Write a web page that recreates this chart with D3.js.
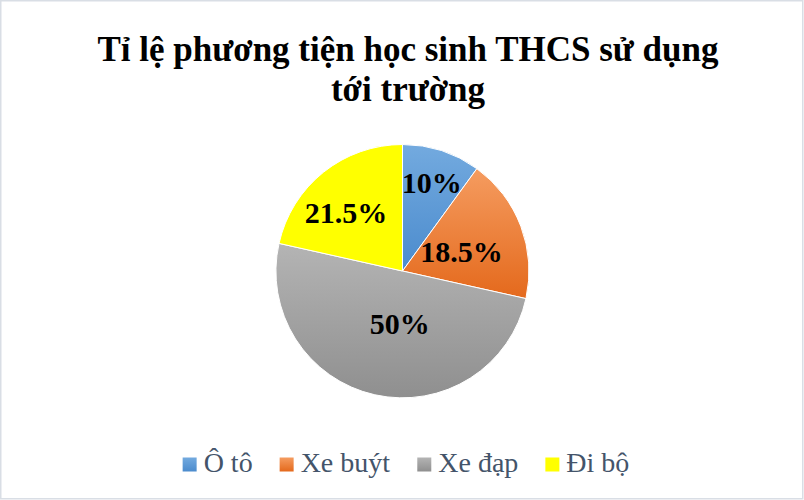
<!DOCTYPE html>
<html>
<head>
<meta charset="utf-8">
<script src="https://cdn.jsdelivr.net/npm/d3@7"></script>
<style>
  html, body { margin: 0; padding: 0; background: #fff; }
  svg { display: block; }
</style>
</head>
<body>
<svg id="chart" width="804" height="500"></svg>
<script>
const titleLines = ["Tỉ lệ phương tiện học sinh THCS sử dụng", "tới trường"];
const categories = ["Ô tô", "Xe buýt", "Xe đạp", "Đi bộ"];
const values = [10, 18.5, 50, 21.5];
const valueLabels = ["10%", "18.5%", "50%", "21.5%"];
const colorTop = ["#73aadf", "#f59c60", "#b4b4b4", "#ffff00"];
const colorBottom = ["#4b8bcd", "#e4691c", "#8f8f8f", "#ffff00"];
const labelRadius = [0.73, 0.49, 0.42, 0.64];
const labelAngleShift = [0.5, 3, -9.5, -5.5];

const svg = d3.select("#chart");
const W = 804, H = 500;
const serif = "'Liberation Serif', 'Times New Roman', serif";

// border
svg.append("rect").attr("x", 0.75).attr("y", 0.75).attr("width", W - 2).attr("height", H - 2)
  .attr("fill", "#fff").attr("stroke", "#d9dee5").attr("stroke-width", 1.5);

// title
const title = svg.append("text").attr("text-anchor", "middle")
  .attr("font-family", serif)
  .attr("font-weight", "bold").attr("font-size", 35).attr("fill", "#000");
titleLines.forEach((t, i) => {
  title.append("tspan").attr("x", 408).attr("y", 61 + i * 40).text(t);
});

// gradients
const defs = svg.append("defs");
categories.forEach((c, i) => {
  const g = defs.append("linearGradient").attr("id", "grad" + i)
    .attr("x1", 0).attr("y1", 0).attr("x2", 0).attr("y2", 1);
  g.append("stop").attr("offset", "0%").attr("stop-color", colorTop[i]);
  g.append("stop").attr("offset", "100%").attr("stop-color", colorBottom[i]);
});

const cx = 402.5, cy = 271, R = 126.5;
const pie = d3.pie().sort(null).value(d => d)(values);
const arc = d3.arc().innerRadius(0).outerRadius(R);
const g = svg.append("g").attr("transform", `translate(${cx},${cy})`);
g.selectAll("path.slice").data(pie).join("path")
  .attr("class", "slice")
  .attr("d", arc)
  .attr("fill", (d, i) => `url(#grad${i})`)
  .attr("stroke", "#fff").attr("stroke-width", 1);

const labelAngle = (d, i) => (d.startAngle + d.endAngle) / 2 + labelAngleShift[i] * Math.PI / 180;
g.selectAll("text.lbl").data(pie).join("text")
  .attr("class", "lbl")
  .attr("text-anchor", "middle")
  .attr("font-family", serif)
  .attr("font-weight", "bold").attr("font-size", 30).attr("fill", "#000")
  .attr("x", (d, i) => Math.sin(labelAngle(d, i)) * R * labelRadius[i])
  .attr("y", (d, i) => -Math.cos(labelAngle(d, i)) * R * labelRadius[i] + 10)
  .text((d, i) => valueLabels[i]);

// legend
const legendFont = 28;
const legend = svg.append("g");
const items = legend.selectAll("g.item").data(categories).join("g").attr("class", "item");
items.append("rect").attr("width", 14).attr("height", 14).attr("y", 457.5)
  .attr("fill", (d, i) => `url(#grad${i})`);
items.append("text").attr("x", 21).attr("y", 472)
  .attr("font-family", serif)
  .attr("font-size", legendFont).attr("fill", "#44546a").text(d => d);
const gap = 27;
const widths = [];
items.each(function() { widths.push(this.getBBox().width); });
const total = d3.sum(widths) + gap * (widths.length - 1);
let x0 = 406 - total / 2;
items.each(function(d, i) {
  d3.select(this).attr("transform", `translate(${x0},0)`);
  x0 += widths[i] + gap;
});
</script>
</body>
</html>
